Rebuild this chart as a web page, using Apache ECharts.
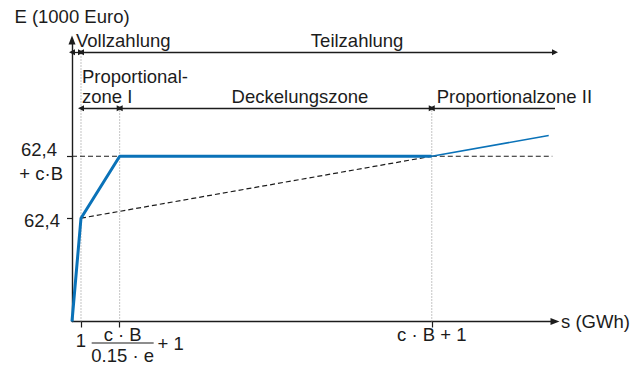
<!DOCTYPE html>
<html>
<head>
<meta charset="utf-8">
<script src="https://cdn.jsdelivr.net/npm/echarts@6/dist/echarts.min.js"></script>
<style>
  html, body { margin: 0; padding: 0; background: #fff; }
  #chart { width: 639px; height: 365px; }
</style>
</head>
<body>
<div id="chart"></div>
<script>
// s axis (schematic units): 1, c·B/(0.15·e)+1, c·B+1
const sTicks = [1, 5.3, 40];
// E axis: 62,4 and 62,4 + c·B
const eTicks = [62.4, 99.8];
// payout curve E(s) up to the cap
const curveS = [0, 1, 5.3, 40];
const curveE = [0, 62.4, 99.8, 99.8];
// Proportionalzone II
const zone2S = [40, 53];
const zone2E = [99.8, 112.3];
// dashed slope back to s = 1
const slopeS = [1, 40];
const slopeE = [62.4, 99.8];
// dashed cap level pieces
const capLeftS = [0, 5.3];
const capRightS = [40, 53.4];
// zone boundaries for the arrow rows
const payBounds = [0, 1, 53.7];         // Vollzahlung | Teilzahlung
const zoneBounds = [1, 5.3, 40, 53.7];  // Prop. I | Deckelung | Prop. II

const FONT = '"Liberation Sans", Arial, sans-serif';
const FS = 18.5;
const INK = '#1c1c1c';
const BLUE = '#0a72b8';
const ROW1 = 162.6;
const ROW2 = 128.8;
const S_MAX = 53.7;

var chart = echarts.init(document.getElementById('chart'), null, { renderer: 'svg' });

function seg(xs, ys, style) {
  return {
    type: 'line', silent: true, symbol: 'none', animation: false,
    data: xs.map((x, i) => [x, ys[i]]),
    lineStyle: style, z: style.z || 2
  };
}

function arrowRow(bounds, level, openEnd) {
  let data = [];
  for (let i = 0; i < bounds.length - 1; i++) {
    let last = i === bounds.length - 2;
    data.push([
      { coord: [bounds[i], level], symbol: 'triangle' },
      { coord: [bounds[i + 1], level], symbol: last && openEnd ? 'none' : 'triangle' }
    ]);
  }
  return {
    type: 'line', silent: true, symbol: 'none', data: [],
    markLine: {
      silent: true, animation: false, symbolSize: 6,
      lineStyle: { color: INK, width: 1.3, type: 'solid' },
      label: { show: false }, emphasis: { disabled: true },
      data: data
    }
  };
}

let dotted = { color: '#8a8a8a', width: 1, type: [1, 2] };
let dashed = { color: INK, width: 1.2, type: [5, 3] };

let texts = [
  { value: [payBounds[0], ROW1], label: { formatter: 'Vollzahlung', align: 'left', offset: [4, -12] } },
  { value: [31.7, ROW1], label: { formatter: 'Teilzahlung', align: 'center', offset: [0, -12] } },
  { value: [zoneBounds[0], ROW2], label: { formatter: 'Proportional-\nzone I', align: 'left', verticalAlign: 'bottom', lineHeight: 20, offset: [1, -2] } },
  { value: [25.35, ROW2], label: { formatter: 'Deckelungszone', align: 'center', offset: [0, -12] } },
  { value: [zoneBounds[2], ROW2], label: { formatter: 'Proportionalzone II', align: 'left', offset: [5, -12] } }
];

let axisLineStyle = { symbol: ['none', 'triangle'], symbolSize: [7, 9], lineStyle: { color: INK, width: 1.4 } };

chart.setOption({
  animation: false,
  textStyle: { fontFamily: FONT },
  grid: { left: 72, top: 40, width: 483, height: 286 },
  xAxis: [{
    type: 'value', min: 0, max: S_MAX,
    splitLine: { show: false },
    axisLine: axisLineStyle,
    axisTick: { customValues: sTicks, length: 6, lineStyle: { color: INK, width: 1.2 } },
    axisLabel: {
      customValues: sTicks.slice(1), margin: 5, color: INK, fontSize: FS, fontFamily: FONT, hideOverlap: false,
      formatter: function (v) {
        if (v === sTicks[1]) return '{l1|}{n|c · B}{r1|}\n{l2|}{bar|}{p|+ 1}\n{l3|}{d|0.15 · e}{r3|}';
        return '{t|c · B + 1}';
      },
      rich: {
        t: { fontSize: FS, lineHeight: 15 },
        l1: { width: 36, lineHeight: 15 },
        r1: { width: 30, lineHeight: 15 },
        n: { fontSize: FS, width: 62, align: 'center', lineHeight: 15 },
        l2: { width: 36, lineHeight: 3 },
        bar: { width: 62, height: 1.2, lineHeight: 3, backgroundColor: INK },
        p: { fontSize: FS, width: 30, align: 'right', lineHeight: 3 },
        l3: { width: 36, lineHeight: 22 },
        r3: { width: 30, lineHeight: 22 },
        d: { fontSize: FS, width: 62, align: 'center', lineHeight: 22 }
      }
    },
    name: 's (GWh)', nameLocation: 'end', nameGap: 6,
    nameTextStyle: { fontSize: FS, color: INK, fontFamily: FONT, verticalAlign: 'middle' }
  }, {
    // overlay axis carrying only the "1" label, so it is not dropped next to the fraction
    type: 'value', min: 0, max: S_MAX, position: 'bottom', offset: 0,
    splitLine: { show: false }, axisLine: { show: false }, axisTick: { show: false },
    axisLabel: {
      customValues: [sTicks[0]], margin: 11, color: INK, fontSize: FS, fontFamily: FONT,
      formatter: '{one|1}',
      rich: { one: { fontSize: FS, lineHeight: 15 } }
    }
  }],
  yAxis: {
    type: 'value', min: 0, max: 170,
    splitLine: { show: false },
    axisLine: axisLineStyle,
    axisTick: { customValues: eTicks, length: 5, lineStyle: { color: INK, width: 1.2 } },
    axisLabel: {
      customValues: eTicks, margin: 9, color: INK, fontSize: FS, fontFamily: FONT, hideOverlap: false,
      formatter: function (v) {
        if (v === eTicks[1]) return '{sp|}\n{a|62,4}\n{b|+ c·B}';
        return '{c|62,4}';
      },
      rich: {
        sp: { lineHeight: 10 },
        a: { fontSize: FS, lineHeight: 24, padding: [0, 6, 0, 0] },
        b: { fontSize: FS, lineHeight: 24 },
        c: { fontSize: FS, lineHeight: 24, padding: [4, 3, 0, 0] }
      }
    },
    name: 'E (1000 Euro)', nameLocation: 'end', nameGap: 14,
    nameTextStyle: { fontSize: FS, color: INK, fontFamily: FONT }
  },
  series: [
    seg([sTicks[0], sTicks[0]], [0, ROW1], dotted),
    seg([sTicks[1], sTicks[1]], [0, ROW2], dotted),
    seg([sTicks[2], sTicks[2]], [0, ROW2], dotted),
    seg(slopeS, slopeE, dashed),
    seg(capLeftS, [eTicks[1], eTicks[1]], dashed),
    seg(capRightS, [eTicks[1], eTicks[1]], dashed),
    seg(curveS, curveE, { color: BLUE, width: 3, z: 5 }),
    seg(zone2S, zone2E, { color: BLUE, width: 1.6, z: 5 }),
    arrowRow(payBounds, ROW1, false),
    arrowRow(zoneBounds, ROW2, true),
    {
      type: 'scatter', silent: true, symbolSize: 0,
      itemStyle: { opacity: 1 },
      data: texts,
      label: { show: true, position: [0, 0], verticalAlign: 'middle', fontSize: FS, color: INK, fontFamily: FONT }
    }
  ]
});
</script>
</body>
</html>
